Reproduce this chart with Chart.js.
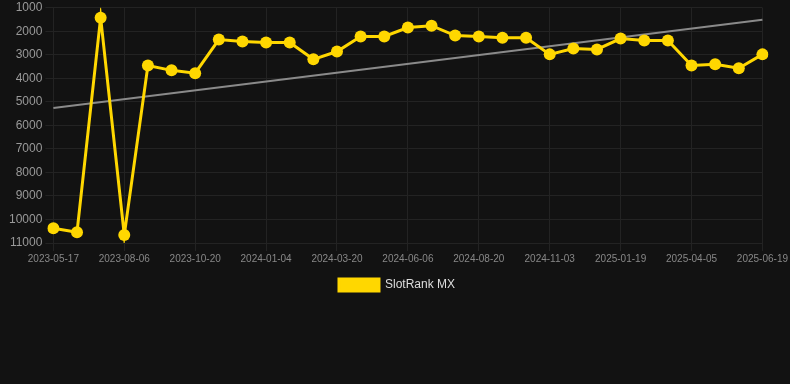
<!DOCTYPE html>
<html>
<head>
<meta charset="utf-8">
<script src="https://cdn.jsdelivr.net/npm/chart.js@4/dist/chart.umd.min.js"></script>
<style>
	html, body { margin: 0; padding: 0; background: #121212; }
	#wrap { width: 790px; height: 301px; position: relative; }
</style>
</head>
<body>
<div id="wrap"><canvas id="myChart"></canvas></div>
<script>
const labels = [
	'2023-05-17', '2023-06-13', '2023-07-10', '2023-08-06', '2023-08-31', '2023-09-25',
	'2023-10-20', '2023-11-14', '2023-12-09', '2024-01-04', '2024-01-29', '2024-02-24',
	'2024-03-20', '2024-04-14', '2024-05-10', '2024-06-06', '2024-07-01', '2024-07-26',
	'2024-08-20', '2024-09-14', '2024-10-09', '2024-11-03', '2024-11-28', '2024-12-24',
	'2025-01-19', '2025-02-13', '2025-03-11', '2025-04-05', '2025-04-30', '2025-05-25',
	'2025-06-19'
];
const rankValues = [
	10370, 10540, 1420, 10660, 3450, 3660, 3780, 2350, 2430, 2480, 2480, 3190,
	2860, 2220, 2220, 1840, 1760, 2180, 2220, 2270, 2270, 2980, 2730, 2770,
	2310, 2390, 2390, 3450, 3400, 3570, 2980
];
// trend line: only the two end values, gaps spanned
const trendValues = [5260, ...Array(29).fill(null), 1510];
const yTicks = [1000, 11000, 1000]; // min, max, step

const ctx = document.getElementById('myChart').getContext('2d');

const gridColor = '#232323';

const data = {
	labels: labels,
	datasets: [{
		label: 'SlotRank MX',
		data: rankValues,
		borderColor: '#FFD700',
		backgroundColor: '#FFD700',
		borderWidth: 3,
		pointRadius: 6,
		pointHoverRadius: 6,
		pointBackgroundColor: '#FFD700',
		pointBorderWidth: 0,
		tension: 0,
		order: 1
	}, {
		label: 'trend',
		data: trendValues,
		borderColor: '#8a8a8a',
		borderWidth: 2,
		pointRadius: 0,
		spanGaps: true,
		order: 2
	}]
};

const config = {
	type: 'line',
	data: data,
	options: {
		responsive: true,
		maintainAspectRatio: false,
		animation: false,
		layout: { padding: { left: 6, right: 2, top: 0 } },
		scales: {
			x: {
				grid: {
					color: (c) => (c.index % 3 === 0 ? gridColor : 'transparent'),
					tickColor: (c) => (c.index % 3 === 0 ? gridColor : 'transparent')
				},
				border: { color: gridColor },
				ticks: {
					color: '#888888',
					font: { size: 10, family: 'Liberation Sans, Arial' },
					maxRotation: 0,
					autoSkip: false,
					padding: 2,
					callback: function (val, i) { return i % 3 === 0 ? labels[i] : ''; }
				}
			},
			y: {
				reverse: true,
				min: yTicks[0],
				max: yTicks[1],
				grid: { color: gridColor, tickColor: gridColor },
				border: { color: gridColor },
				ticks: {
					stepSize: yTicks[2],
					color: '#999999',
					font: { size: 12, family: 'Liberation Sans, Arial', lineHeight: 0.8 },
					callback: (v) => String(v)
				}
			}
		},
		plugins: {
			legend: {
				position: 'bottom',
				labels: {
					color: '#dddddd',
					boxWidth: 40,
					boxHeight: 12,
					padding: 12,
					font: { size: 12, family: 'Liberation Sans, Arial' },
					filter: function (item) { return item.text !== 'trend'; }
				}
			},
			tooltip: { enabled: false }
		}
	}
};

const myChart = new Chart(ctx, config);
</script>
</body>
</html>
